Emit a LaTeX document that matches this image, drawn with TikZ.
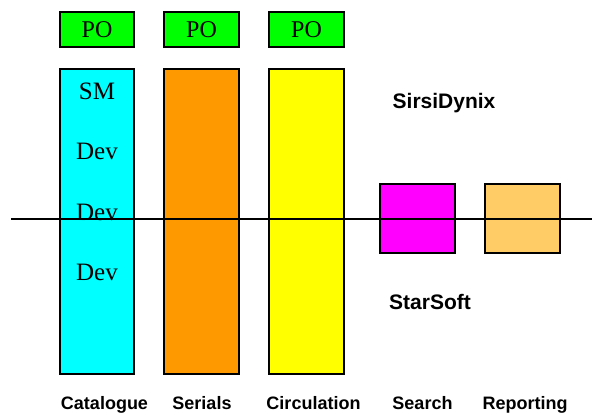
\documentclass[tikz,border=0pt]{standalone}
\usepackage{fontspec}
\setmainfont{Liberation Serif}
\newfontfamily\labelfont{Liberation Sans}
\definecolor{cgreen}{HTML}{00FF00}
\definecolor{ccyan}{HTML}{00FFFF}
\definecolor{corange}{HTML}{FF9900}
\definecolor{cyellow}{HTML}{FFFF00}
\definecolor{cmagenta}{HTML}{FF00FF}
\definecolor{clorange}{HTML}{FFCC66}
\begin{document}
\begin{tikzpicture}[x=1pt,y=-1pt,
  box/.style={draw=black,line width=1.8pt,rectangle,inner sep=0pt,minimum width=74.5pt},
  pobox/.style={box,fill=cgreen,minimum height=35pt,font=\fontsize{24}{24}\selectfont},
  tallbox/.style={box,minimum height=305pt},
  midbox/.style={box,minimum height=69pt},
  sertext/.style={anchor=base,inner sep=0pt,font=\fontsize{25}{25}\selectfont},
  lbl/.style={anchor=base,inner sep=0pt,font=\labelfont\bfseries\fontsize{18}{18}\selectfont},
  vendor/.style={anchor=base west,inner sep=0pt,font=\labelfont\bfseries\fontsize{21}{21}\selectfont}]
\useasboundingbox (0,0) rectangle (592,415);
% PO boxes
\node[pobox] (po1) at (97,29.5) {PO};
\node[pobox] (po2) at (201.5,29.5) {PO};
\node[pobox] (po3) at (306.5,29.5) {PO};
% tall module boxes
\node[tallbox,fill=ccyan] (cat) at (97,221.5) {};
\node[tallbox,fill=corange] (ser) at (201.5,221.5) {};
\node[tallbox,fill=cyellow] (circ) at (306.5,221.5) {};
% small boxes
\node[midbox,fill=cmagenta] (search) at (417.5,218.5) {};
\node[midbox,fill=clorange] (rep) at (522.5,218.5) {};
% texts in catalogue
\node[sertext] (sm) at (97,99) {SM};
\node[sertext] (dev1) at (97,159.5) {Dev};
\node[sertext] (dev2) at (97,220) {Dev};
\node[sertext] (dev3) at (97,280.5) {Dev};
% vendor labels
\node[vendor] (sirsi) at (392.5,108.5) {SirsiDynix};
\node[vendor] (star) at (389,309) {StarSoft};
% bottom labels
\node[lbl] (lcat) at (104.5,409) {Catalogue};
\node[lbl] (lser) at (202,409) {Serials};
\node[lbl] (lcirc) at (313.5,409) {Circulation};
\node[lbl] (lsearch) at (422.5,409) {Search};
\node[lbl] (lrep) at (525,409) {Reporting};
% horizontal divider
\coordinate (lstart) at (11,219);
\coordinate (lend) at (592,219);
\draw[line width=1.6pt] (lstart) -- (lend);
\end{tikzpicture}
\end{document}
